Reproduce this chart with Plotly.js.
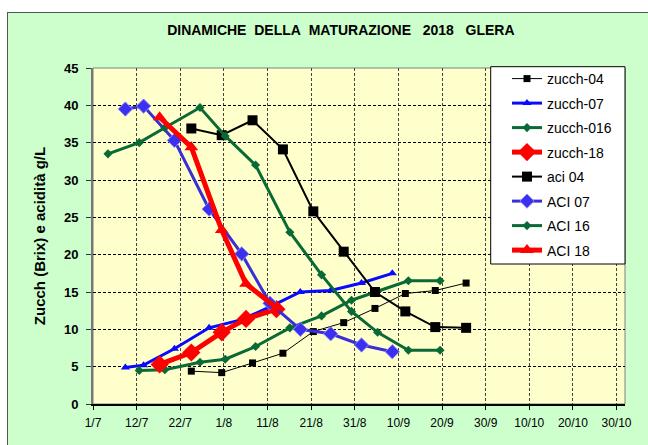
<!DOCTYPE html>
<html>
<head>
<meta charset="utf-8">
<script src="https://cdn.plot.ly/plotly-3.0.1.min.js"></script>
<style>
  html, body { margin: 0; padding: 0; background: #ffffff; overflow: hidden; }
  #panel { position: absolute; left: 7px; top: 12px; width: 700px; height: 500px;
           background: #CCFFCC; border: 1px solid #555555; }
  #chart { position: absolute; left: 0; top: 0; width: 648px; height: 445px; }
</style>
</head>
<body>
<div id="panel"></div>
<div id="chart"></div>
<script>
// x values: day of July (1 = 1 July, 32 = 1 August, 63 = 1 September)
const X_TICK_LABELS = ['1/7','12/7','22/7','1/8','11/8','21/8','31/8','10/9','20/9','30/9','10/10','20/10','30/10'];
const X_AXIS_MIN = 1.95;
const X_TICK_STEP = 10.05;
const X_AXIS_MAX = 124.5;

const zucch04_x = [24.6, 31.6, 38.7, 45.7, 52.7, 59.7, 66.9, 73.9, 80.8, 87.9];
const zucch04_y = [4.4, 4.2, 5.5, 6.8, 9.7, 10.9, 12.8, 14.8, 15.2, 16.2];

const zucch07_x = [9.4, 13.6, 20.7, 28.7, 36.2, 42.7, 49.7, 56.7, 63.8, 70.9];
const zucch07_y = [4.9, 5.2, 7.4, 10.2, 11.3, 13.0, 15.0, 15.2, 16.2, 17.5];

const zucch016_x = [12.6, 18.5, 26.6, 32.4, 39.4, 47.3, 54.6, 61.5, 67.5, 74.6, 81.9];
const zucch016_y = [4.5, 4.6, 5.6, 6.0, 7.7, 10.2, 11.8, 13.9, 15.1, 16.5, 16.5];

const zucch18_x = [17.3, 24.6, 31.6, 37.2, 44.2];
const zucch18_y = [5.3, 6.9, 9.6, 11.4, 12.7];

const aci04_x = [24.6, 31.6, 38.7, 45.7, 52.7, 59.7, 66.9, 73.9, 80.8, 87.9];
const aci04_y = [36.9, 36.0, 38.0, 34.1, 25.8, 20.4, 15.0, 12.4, 10.3, 10.2];

const aci07_x = [9.4, 13.6, 20.7, 28.7, 36.2, 42.7, 49.7, 56.7, 63.8, 70.9];
const aci07_y = [39.5, 39.9, 35.3, 26.1, 20.1, 13.5, 10.0, 9.4, 7.9, 7.0];

const aci16_x = [5.4, 12.6, 18.5, 26.6, 32.4, 39.4, 47.3, 54.6, 61.5, 67.5, 74.6, 81.9];
const aci16_y = [33.5, 35.0, 37.0, 39.7, 35.9, 32.0, 23.0, 17.3, 12.4, 9.6, 7.2, 7.2];

const aci18_x = [17.3, 24.6, 31.6, 37.2, 44.2];
const aci18_y = [38.4, 34.4, 23.3, 16.1, 12.9];

const X_TICK_VALS = X_TICK_LABELS.map((_, i) => X_AXIS_MIN + i * X_TICK_STEP);

const FONT = 'Liberation Sans, Arial, sans-serif';
const GREEN = '#0a6a36';

function tr(name, x, y, color, width, symbol, size, mcolor, mline) {
  return {
    type: 'scatter', mode: 'lines+markers', name: name, legendgroup: name,
    x: x, y: y,
    line: { color: color, width: width },
    marker: { symbol: symbol, size: size, color: mcolor || color,
              line: mline || { width: 0 } },
    hoverinfo: 'x+y'
  };
}

const data = [
  tr('zucch-04', zucch04_x, zucch04_y, '#000000', 1, 'square', 7),
  tr('zucch-07', zucch07_x, zucch07_y, '#0a0aff', 3, 'triangle-up', 8),
  tr('zucch-016', zucch016_x, zucch016_y, GREEN, 3, 'diamond', 7),
  tr('zucch-18', zucch18_x, zucch18_y, '#ff0000', 5, 'diamond', 14),
  tr('aci 04', aci04_x, aci04_y, '#000000', 2, 'square', 10),
  tr('ACI 07', aci07_x, aci07_y, '#3a2ed6', 3, 'diamond', 11, '#3b30f0', { width: 1, color: '#8f8cf5' }),
  tr('ACI 16', aci16_x, aci16_y, GREEN, 3, 'diamond', 7),
  tr('ACI 18', aci18_x, aci18_y, '#ff0000', 5, 'triangle-up', 12)
];

const layout = {
  width: 648, height: 445,
  margin: { l: 93, r: 23, t: 68, b: 41 },
  paper_bgcolor: 'rgba(0,0,0,0)',
  plot_bgcolor: '#FFFFCC',
  font: { family: FONT, color: '#000' },
  title: {
    text: 'DINAMICHE\u00a0 DELLA\u00a0 MATURAZIONE\u00a0\u00a0 2018\u00a0\u00a0 GLERA',
    font: { family: FONT, size: 14, weight: 'bold', color: '#000' },
    xref: 'container', yref: 'container', x: 0.526, y: 1 - 30 / 445,
    xanchor: 'center', yanchor: 'middle'
  },
  xaxis: {
    range: [X_AXIS_MIN, X_AXIS_MAX],
    tickmode: 'array', tickvals: X_TICK_VALS, ticktext: X_TICK_LABELS,
    ticks: 'outside', ticklen: 4, tickcolor: '#000', tickwidth: 1,
    showline: true, linecolor: '#000', linewidth: 1.5,
    showgrid: true, gridcolor: '#444', gridwidth: 1, griddash: '3px,2px',
    zeroline: false,
    tickfont: { family: FONT, size: 12, color: '#000' },
    ticklabelstandoff: 3,
    fixedrange: true
  },
  yaxis: {
    range: [0, 45], dtick: 5, tick0: 0,
    ticks: 'outside', ticklen: 5, tickcolor: '#333', tickwidth: 1,
    showline: true, linecolor: '#777', linewidth: 2,
    showgrid: true, gridcolor: '#000', gridwidth: 1, griddash: '3px,2px',
    zeroline: false,
    tickfont: { family: FONT, size: 13, weight: 'bold', color: '#000' },
    ticklabelstandoff: 5,
    title: { text: 'Zucch (Brix) e acidità g/L',
             font: { family: FONT, size: 15, weight: 'bold', color: '#000' },
             standoff: 15 },
    fixedrange: true
  },
  showlegend: true,
  legend: {
    x: (507 - 93) / 532, xanchor: 'left',
    y: (404 - 63) / 336, yanchor: 'top',
    bgcolor: 'rgba(0,0,0,0)', borderwidth: 0,
    traceorder: 'grouped', tracegroupgap: 3.3,
    font: { family: FONT, size: 14, color: '#000' }
  },
  shapes: [
    { type: 'rect', xref: 'paper', yref: 'paper', x0: 0, x1: 1, y0: 0, y1: 1,
      line: { color: '#808080', width: 1 }, layer: 'below' },
    { type: 'rect', xref: 'paper', yref: 'paper',
      x0: (490.7 - 93) / 532, x1: 1.0, y0: (404 - 264) / 336, y1: (404 - 66.7) / 336,
      line: { color: '#000', width: 1 }, fillcolor: '#ffffff', layer: 'above' }
  ]
};

Plotly.newPlot('chart', data, layout, { displayModeBar: false, staticPlot: true });
</script>
</body>
</html>
